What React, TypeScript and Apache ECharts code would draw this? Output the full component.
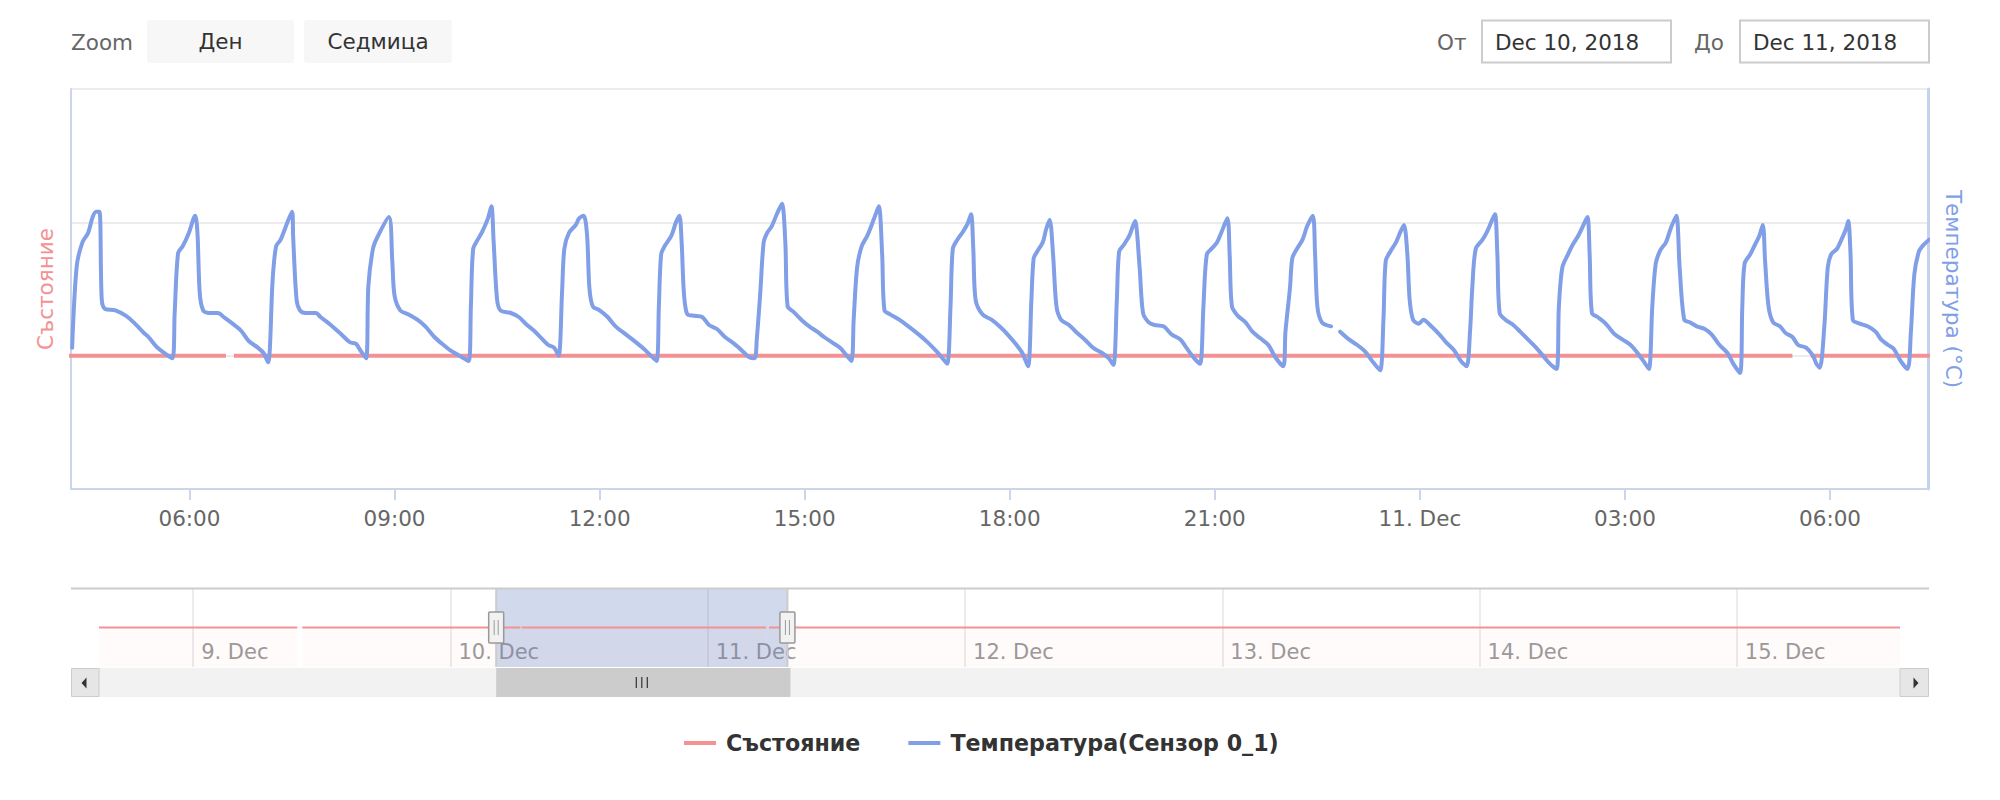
import React, { useEffect, useRef } from 'react';
import * as echarts from 'echarts';

// ---------- data ----------
// all times are minutes after 10 Dec 2018 00:00
const START_DAY = 10;
const MONTH = 'Dec';

const STATE_NAME = 'Състояние';
const TEMP_NAME = 'Температура(Сензор 0_1)';
const LEFT_AXIS_TITLE = 'Състояние';
const RIGHT_AXIS_TITLE = 'Температура (°C)';
const ZOOM_LABEL = 'Zoom';
const RANGE_BUTTONS = ['Ден', 'Седмица'];
const FROM_LABEL = 'От';
const TO_LABEL = 'До';
const FROM_VALUE = 'Dec 10, 2018';
const TO_VALUE = 'Dec 11, 2018';

// visible window and navigator window
const mainRange = [256, 1886];
const navigatorRange = [-1967, 8113];

// axis ticks
const mainTicks = [360, 540, 720, 900, 1080, 1260, 1440, 1620, 1800];
const navigatorTicks = [-1440, 0, 1440, 2880, 4320, 5760, 7200];

// state series, null = gap
const stateMinutes = [-1967, -857, -843, -829, 392, 395, 399, 1767, 1775, 1783, 8113];
const stateValues = [0, 0, null, 0, 0, null, 0, 0, null, 0, 0];

// temperature series (°C), null = gap
const tempMinutes = [
  257, 261, 266, 271, 275, 278, 281, 283, 286, 295, 304, 311, 320, 324, 332, 345,
  347, 350, 354, 359, 365, 367, 369, 372, 377, 385, 390, 405, 412, 420, 425, 429,
  433, 436, 440, 446, 450, 451, 454, 457, 462, 471, 475, 484, 492, 501, 506, 510, 515,
  517, 521, 525, 535, 538, 540, 545, 552, 560, 567, 575, 583, 589, 597, 605,
  607, 609, 613, 617, 622, 625, 627, 630, 633, 642, 649, 655, 662, 669, 675, 680, 684,
  687, 689, 693, 699, 702, 706, 709, 711, 714, 720, 727, 734, 743, 752, 759, 765, 770,
  772, 774, 777, 783, 787, 790, 792, 794, 797, 803, 810, 816, 823, 830, 838, 846, 851, 856,
  858, 861, 864, 867, 871, 876, 880, 883, 885, 890, 897, 904, 911, 917, 924, 931, 936, 941,
  943, 946, 950, 955, 961, 965, 968, 970, 975, 983, 991, 1000, 1008, 1016, 1020, 1025,
  1028, 1030, 1034, 1039, 1043, 1046, 1048, 1050, 1056, 1064, 1071, 1078, 1086, 1091, 1096,
  1099, 1101, 1104, 1109, 1112, 1115, 1118, 1121, 1125, 1132, 1138, 1146, 1153, 1161, 1167, 1171,
  1174, 1176, 1180, 1185, 1188, 1190, 1194, 1197, 1202, 1207, 1215, 1222, 1230, 1235, 1242, 1247,
  1250, 1253, 1258, 1262, 1266, 1271, 1273, 1275, 1280, 1287, 1293, 1300, 1307, 1313, 1320,
  1322, 1326, 1328, 1332, 1337, 1341, 1346, 1348, 1350, 1354, 1362, 1366, 1370, 1378, 1385, 1392, 1399, 1405,
  1408, 1410, 1414, 1419, 1423, 1426, 1429, 1431, 1434, 1439, 1443, 1450, 1457, 1463, 1470, 1476, 1481,
  1484, 1486, 1489, 1495, 1499, 1504, 1506, 1508, 1510, 1515, 1522, 1528, 1535, 1542, 1548, 1554, 1560,
  1562, 1565, 1570, 1574, 1579, 1583, 1587, 1589, 1591, 1596, 1602, 1607, 1611, 1618, 1625, 1631, 1637, 1641,
  1644, 1647, 1651, 1656, 1660, 1665, 1668, 1672, 1677, 1683, 1690, 1696, 1703, 1710, 1715, 1721,
  1723, 1725, 1730, 1734, 1738, 1741, 1743, 1746, 1750, 1756, 1761, 1767, 1772, 1779, 1785, 1788, 1791,
  1795, 1798, 1801, 1806, 1810, 1814, 1816, 1818, 1820, 1826, 1833, 1840, 1845, 1851, 1856, 1862, 1868,
  1871, 1874, 1878, 1882, 1887,
];
const tempValues = [
  0.6, 6.7, 8.5, 9.2, 10.4, 10.8, 10.8, 4.2, 3.5, 3.4, 3.0, 2.5, 1.7, 1.4, 0.6, -0.2,
  3.2, 7.7, 8.2, 9.1, 10.5, 9.2, 4.7, 3.4, 3.2, 3.2, 2.9, 1.9, 1.1, 0.6, 0.2, -0.5,
  5.7, 8.2, 8.7, 10.0, 10.8, 8.9, 4.2, 3.4, 3.2, 3.2, 2.9, 2.3, 1.7, 1.0, 0.9, 0.4, -0.2,
  5.2, 8.0, 8.9, 10.4, 7.1, 4.5, 3.4, 3.1, 2.7, 2.2, 1.4, 0.8, 0.4, 0.0, -0.4,
  3.7, 8.0, 8.7, 9.3, 10.3, 11.2, 8.5, 4.2, 3.4, 3.2, 2.9, 2.4, 1.9, 1.3, 0.8, 0.6, 0.0,
  4.7, 8.0, 9.2, 9.8, 10.3, 10.5, 9.0, 5.1, 3.7, 3.4, 2.9, 2.2, 1.6, 1.0, 0.5, 0.0, -0.4,
  3.7, 7.6, 8.2, 9.0, 10.0, 10.5, 8.5, 4.7, 3.1, 3.0, 2.9, 2.3, 2.0, 1.4, 0.9, 0.3, -0.1, -0.2,
  1.3, 4.7, 8.5, 9.2, 9.7, 10.7, 11.4, 8.5, 3.7, 3.3, 2.7, 2.2, 1.8, 1.4, 1.0, 0.6, 0.1, -0.4,
  2.7, 6.6, 8.2, 9.0, 10.3, 11.2, 7.6, 3.4, 3.1, 2.7, 2.2, 1.6, 1.0, 0.3, -0.1, -0.6,
  3.7, 8.0, 8.7, 9.3, 9.9, 10.6, 8.0, 4.2, 3.1, 2.7, 2.2, 1.6, 0.8, 0.2, -0.8,
  4.2, 7.3, 7.8, 8.5, 9.5, 10.2, 7.6, 3.7, 2.7, 2.3, 1.8, 1.2, 0.6, 0.2, -0.2, -0.7,
  4.2, 7.8, 8.3, 9.0, 9.7, 10.1, 6.6, 3.2, 2.5, 2.3, 2.2, 1.6, 1.2, 0.6, -0.2, -0.6,
  3.7, 7.6, 8.1, 8.5, 9.3, 10.3, 7.6, 3.7, 3.0, 2.5, 1.8, 1.3, 0.8, -0.1, -0.8,
  1.8, 5.1, 7.3, 8.0, 8.7, 9.7, 10.5, 7.6, 3.7, 2.5, 2.2, null, 1.8, 1.2, 0.8, 0.3, -0.5, -1.1,
  2.7, 7.1, 7.8, 8.5, 9.3, 9.8, 7.6, 4.2, 2.7, 2.4, 2.7, 2.2, 1.6, 1.0, 0.4, -0.4, -0.8,
  1.8, 5.1, 8.0, 8.7, 9.3, 10.3, 10.6, 7.6, 3.2, 2.7, 2.3, 1.8, 1.2, 0.6, 0.0, -0.6, -1.0,
  3.7, 6.6, 7.6, 8.3, 9.0, 9.7, 10.4, 7.6, 3.2, 2.9, 2.5, 2.0, 1.6, 1.2, 0.8, 0.2, -0.5, -1.0,
  3.7, 6.9, 7.9, 8.5, 9.5, 10.5, 6.6, 2.7, 2.5, 2.2, 2.0, 1.6, 0.8, 0.2, -0.6, -1.3,
  3.7, 6.9, 7.6, 8.3, 9.0, 9.8, 7.1, 3.7, 2.5, 2.2, 1.7, 1.4, 0.8, 0.6, 0.0, -0.6, -0.9,
  2.2, 6.6, 7.6, 8.0, 8.7, 9.5, 10.1, 7.6, 2.7, 2.4, 2.2, 1.8, 1.2, 0.8, 0.5, -0.4, -1.0,
  1.8, 6.1, 7.8, 8.3, 8.7,
];

// ---------- styling ----------
const FONT = "'DejaVu Sans', sans-serif";
const RED = '#f39193';
const BLUE = '#819fe7';
const AXIS_LINE = '#ccd6eb';
const GRID = '#e6e6e6';

const pad = (n: number) => (n < 10 ? '0' + n : '' + n);
const stateData = stateMinutes.map((m, i) => [m, stateValues[i]]);
const tempData = tempMinutes.map((m, i) => [m, tempValues[i]]);

function dayLabel(m: number) {
  return `${START_DAY + Math.round(m / 1440)}. ${MONTH}`;
}
function mainLabel(m: number) {
  const r = ((Math.round(m) % 1440) + 1440) % 1440;
  if (r === 0) return dayLabel(m);
  return `${pad(Math.floor(r / 60))}:${pad(r % 60)}`;
}

function buildOption(): any {
  return {
    animation: false,
    backgroundColor: '#ffffff',
    textStyle: { fontFamily: FONT },
    grid: [
      { left: 71, top: 89, width: 1857, height: 400, outerBoundsMode: 'none', containLabel: false },
      { left: 99, top: 588, width: 1801, height: 79, outerBoundsMode: 'none', containLabel: false },
    ],
    legend: {
      data: [STATE_NAME, TEMP_NAME],
      left: 684,
      top: 732,
      padding: 0,
      itemWidth: 32,
      itemHeight: 4,
      itemGap: 48,
      icon: 'rect',
      selectedMode: false,
      textStyle: { fontFamily: FONT, fontSize: 22.2, fontWeight: 'bold', color: '#333333', padding: [0, 0, 0, 5] },
    },
    xAxis: [
      {
        type: 'value',
        gridIndex: 0,
        min: mainRange[0],
        max: mainRange[1],
        axisLine: { show: true, onZero: false, lineStyle: { color: AXIS_LINE, width: 2 } },
        axisTick: { show: true, length: 11, customValues: mainTicks, lineStyle: { color: AXIS_LINE, width: 2 } },
        axisLabel: { color: '#666666', fontSize: 21.5, fontFamily: FONT, margin: 18, customValues: mainTicks, formatter: mainLabel },
        splitLine: { show: false },
      },
      {
        type: 'value',
        gridIndex: 1,
        min: navigatorRange[0],
        max: navigatorRange[1],
        axisLine: { show: false, onZero: false },
        axisTick: { show: false, customValues: navigatorTicks },
        axisLabel: {
          inside: true,
          color: '#999999',
          fontSize: 21,
          fontFamily: FONT,
          margin: 15,
          align: 'left',
          verticalAlign: 'middle',
          padding: [0, 0, 0, 8],
          customValues: navigatorTicks,
          formatter: dayLabel,
        },
        splitLine: { show: true, lineStyle: { color: GRID, width: 1.5 } },
      },
    ],
    yAxis: [
      {
        type: 'value',
        gridIndex: 0,
        position: 'left',
        min: -1,
        max: 2,
        interval: 1,
        axisLabel: { show: false },
        axisTick: { show: false },
        axisLine: { show: true, onZero: false, lineStyle: { color: AXIS_LINE, width: 2 } },
        splitLine: { show: true, lineStyle: { color: GRID, width: 1.5 } },
        name: LEFT_AXIS_TITLE,
        nameLocation: 'middle',
        nameRotate: 90,
        nameGap: 15,
        nameTextStyle: { color: RED, fontSize: 21.5, fontFamily: FONT },
      },
      {
        type: 'value',
        gridIndex: 0,
        position: 'right',
        min: -10,
        max: 20,
        interval: 10,
        axisLabel: { show: false },
        axisTick: { show: false },
        axisLine: { show: true, onZero: false, lineStyle: { color: '#c5d2ee', width: 3 } },
        splitLine: { show: false },
        name: RIGHT_AXIS_TITLE,
        nameLocation: 'middle',
        nameRotate: -90,
        nameGap: 14,
        nameTextStyle: { color: BLUE, fontSize: 21.5, fontFamily: FONT },
      },
      {
        type: 'value',
        gridIndex: 1,
        min: -1,
        max: 1,
        show: false,
        splitLine: { show: false },
      },
    ],
    series: [
      {
        name: STATE_NAME,
        type: 'line',
        xAxisIndex: 0,
        yAxisIndex: 0,
        data: stateData,
        symbol: 'none',
        showSymbol: false,
        connectNulls: false,
        color: RED,
        lineStyle: { color: RED, width: 4, cap: 'butt', join: 'round' },
        z: 2,
      },
      {
        name: TEMP_NAME,
        type: 'line',
        xAxisIndex: 0,
        yAxisIndex: 1,
        data: tempData,
        symbol: 'none',
        showSymbol: false,
        connectNulls: false,
        smooth: 0.3,
        color: BLUE,
        lineStyle: { color: BLUE, width: 4, cap: 'round', join: 'round' },
        z: 3,
      },
      {
        name: 'navigator',
        type: 'line',
        xAxisIndex: 1,
        yAxisIndex: 2,
        data: stateData,
        symbol: 'none',
        showSymbol: false,
        connectNulls: false,
        color: RED,
        lineStyle: { color: RED, width: 2 },
        areaStyle: { color: 'rgba(243,145,145,0.05)', origin: 'start' },
        markArea: {
          silent: true,
          itemStyle: { color: 'rgba(102,133,194,0.3)' },
          data: [[{ xAxis: mainRange[0] }, { xAxis: mainRange[1] }]],
        },
        z: 2,
      },
    ],
  };
}

function txt(text: string, x: number, y: number, fill: string, align = 'left') {
  return {
    type: 'text',
    x,
    y,
    z: 100,
    silent: true,
    style: { text, fill, fontSize: 21.5, fontFamily: FONT, align, verticalAlign: 'middle' },
  };
}

function handle(x: number) {
  return {
    type: 'group',
    z: 110,
    children: [
      { type: 'rect', z: 110, shape: { x: x - 7.5, y: 612, width: 15, height: 31, r: 1 }, style: { fill: '#f2f2f2', stroke: '#999999', lineWidth: 1.5 } },
      { type: 'line', z: 111, shape: { x1: x - 2, y1: 620, x2: x - 2, y2: 635 }, style: { stroke: '#999999', lineWidth: 1 } },
      { type: 'line', z: 111, shape: { x1: x + 2, y1: 620, x2: x + 2, y2: 635 }, style: { stroke: '#999999', lineWidth: 1 } },
    ],
  };
}

function buildGraphic(x0: number, x1: number) {
  const cx = (x0 + x1) / 2;
  return [
    txt(ZOOM_LABEL, 71, 42, '#666666'),
    { type: 'rect', z: 99, shape: { x: 147, y: 20, width: 147, height: 43, r: 3 }, style: { fill: '#f7f7f7' } },
    txt(RANGE_BUTTONS[0], 220.5, 41.5, '#333333', 'center'),
    { type: 'rect', z: 99, shape: { x: 304, y: 20, width: 148, height: 43, r: 3 }, style: { fill: '#f7f7f7' } },
    txt(RANGE_BUTTONS[1], 378, 41.5, '#333333', 'center'),
    txt(FROM_LABEL, 1437, 42, '#666666'),
    { type: 'rect', z: 99, shape: { x: 1482, y: 20.5, width: 189, height: 42 }, style: { fill: '#ffffff', stroke: '#cccccc', lineWidth: 2 } },
    txt(FROM_VALUE, 1495, 42, '#333333'),
    txt(TO_LABEL, 1694, 42, '#666666'),
    { type: 'rect', z: 99, shape: { x: 1740, y: 20.5, width: 189, height: 42 }, style: { fill: '#ffffff', stroke: '#cccccc', lineWidth: 2 } },
    txt(TO_VALUE, 1753, 42, '#333333'),
    // navigator outline
    { type: 'line', z: 100, shape: { x1: 71, y1: 588.5, x2: 1929, y2: 588.5 }, style: { stroke: '#cccccc', lineWidth: 2 } },
    { type: 'line', z: 100, shape: { x1: x0, y1: 588, x2: x0, y2: 667 }, style: { stroke: '#cccccc', lineWidth: 2 } },
    { type: 'line', z: 100, shape: { x1: x1, y1: 588, x2: x1, y2: 667 }, style: { stroke: '#cccccc', lineWidth: 2 } },
    // scrollbar
    { type: 'rect', z: 100, shape: { x: 99, y: 668, width: 1801, height: 29 }, style: { fill: '#f2f2f2' } },
    { type: 'rect', z: 101, shape: { x: 71.5, y: 668.5, width: 27.5, height: 28 }, style: { fill: '#e6e6e6', stroke: '#cccccc', lineWidth: 1 } },
    { type: 'rect', z: 101, shape: { x: 1900, y: 668.5, width: 28.5, height: 28 }, style: { fill: '#e6e6e6', stroke: '#cccccc', lineWidth: 1 } },
    { type: 'polygon', z: 102, shape: { points: [[81.5, 683], [86.5, 677.5], [86.5, 688.5]] }, style: { fill: '#333333' } },
    { type: 'polygon', z: 102, shape: { points: [[1918.5, 683], [1913.5, 677.5], [1913.5, 688.5]] }, style: { fill: '#333333' } },
    { type: 'rect', z: 101, shape: { x: x0, y: 668, width: x1 - x0 + 3, height: 29 }, style: { fill: '#cccccc' } },
    { type: 'line', z: 102, shape: { x1: cx - 5.5, y1: 677, x2: cx - 5.5, y2: 688 }, style: { stroke: '#333333', lineWidth: 1.2 } },
    { type: 'line', z: 102, shape: { x1: cx, y1: 677, x2: cx, y2: 688 }, style: { stroke: '#333333', lineWidth: 1.2 } },
    { type: 'line', z: 102, shape: { x1: cx + 5.5, y1: 677, x2: cx + 5.5, y2: 688 }, style: { stroke: '#333333', lineWidth: 1.2 } },
    handle(x0),
    handle(x1),
  ];
}

export default function App() {
  const ref = useRef<HTMLDivElement>(null);
  useEffect(() => {
    if (!ref.current) return;
    const chart = echarts.init(ref.current, null, { renderer: 'svg' });
    chart.setOption(buildOption());
    const px = (m: number) => chart.convertToPixel({ xAxisIndex: 1 }, m) as unknown as number;
    const x0 = px(mainRange[0]);
    const x1 = px(mainRange[1]);
    chart.setOption({ graphic: buildGraphic(x0, x1) });
    return () => chart.dispose();
  }, []);
  return (
    <div
      ref={ref}
      style={{ position: 'fixed', left: 0, top: 0, width: 2000, height: 800, background: '#ffffff' }}
    />
  );
}
